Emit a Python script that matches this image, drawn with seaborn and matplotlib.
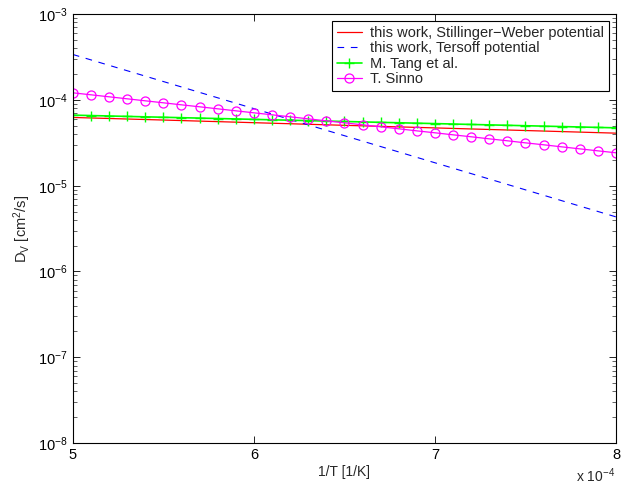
import numpy as np
import pandas as pd
import matplotlib
matplotlib.use("Agg")
import matplotlib.pyplot as plt
import seaborn as sns
from matplotlib.ticker import LogLocator, FixedLocator, FuncFormatter, NullFormatter

# 1/T in units of 1e-4 1/K
inv_T = [5.0, 5.1, 5.2, 5.3, 5.4, 5.5, 5.6, 5.7, 5.8, 5.9,
         6.0, 6.1, 6.2, 6.3, 6.4, 6.5, 6.6, 6.7, 6.8, 6.9,
         7.0, 7.1, 7.2, 7.3, 7.4, 7.5, 7.6, 7.7, 7.8, 7.9, 8.0]

inv_T_coarse = [5.0, 5.5, 6.0, 6.5, 7.0, 7.5, 8.0]

# this work, Stillinger-Weber [cm^2/s]
d_sw = [6.25e-5, 5.83e-5, 5.43e-5, 5.06e-5, 4.72e-5, 4.40e-5, 4.10e-5]
# this work, Tersoff
d_tersoff = [3.39e-4, 1.639e-4, 7.92e-5, 3.83e-5, 1.851e-5, 8.95e-6, 4.33e-6]
# M. Tang et al.
d_tang = [6.65e-5, 6.575e-5, 6.501e-5, 6.427e-5, 6.355e-5, 6.283e-5, 6.212e-5,
          6.142e-5, 6.072e-5, 6.004e-5, 5.936e-5, 5.869e-5, 5.803e-5, 5.737e-5,
          5.672e-5, 5.608e-5, 5.545e-5, 5.482e-5, 5.420e-5, 5.359e-5, 5.299e-5,
          5.239e-5, 5.180e-5, 5.121e-5, 5.063e-5, 5.006e-5, 4.950e-5, 4.894e-5,
          4.838e-5, 4.784e-5, 4.730e-5]
# T. Sinno
d_sinno = [1.211e-4, 1.148e-4, 1.088e-4, 1.031e-4, 9.77e-5, 9.26e-5, 8.77e-5,
           8.32e-5, 7.88e-5, 7.47e-5, 7.08e-5, 6.71e-5, 6.36e-5, 6.02e-5,
           5.71e-5, 5.41e-5, 5.13e-5, 4.86e-5, 4.61e-5, 4.36e-5, 4.14e-5,
           3.92e-5, 3.72e-5, 3.52e-5, 3.34e-5, 3.16e-5, 3.00e-5, 2.84e-5,
           2.69e-5, 2.55e-5, 2.42e-5]

sns.set_style("ticks")
plt.rcParams.update({
    "font.family": ["Liberation Sans", "DejaVu Sans"],
    "font.size": 10,
    "mathtext.fontset": "custom",
    "mathtext.rm": "Liberation Sans",
    "mathtext.it": "Liberation Sans:italic",
    "mathtext.bf": "Liberation Sans:bold",
    "axes.linewidth": 0.8,
    "xtick.direction": "in",
    "ytick.direction": "in",
    "xtick.top": True,
    "ytick.right": True,
})

fig = plt.figure(figsize=(6.39, 4.84), dpi=100)
ax = fig.add_axes([0.114, 0.0847, 0.850, 0.886])

sns.lineplot(x=inv_T_coarse, y=d_sw, ax=ax, color="#ff0000", lw=0.9,
             label="this work, Stillinger\u2212Weber potential")
sns.lineplot(x=inv_T_coarse, y=d_tersoff, ax=ax, color="#0000ff", lw=0.8,
             linestyle=(0, (6, 6)), label="this work, Tersoff potential")
sns.lineplot(x=inv_T, y=d_tang, ax=ax, color="#00ff00", lw=1.2, marker="+",
             markersize=7, markeredgewidth=1.0, markeredgecolor="#00ff00",
             label="M. Tang et al.")
sns.lineplot(x=inv_T, y=d_sinno, ax=ax, color="#ff00ff", lw=0.9, marker="o",
             markersize=6.5, markerfacecolor="none", markeredgecolor="#ff00ff",
             markeredgewidth=0.9, label="T. Sinno")

ax.set_yscale("log")
ax.set_xlim(5, 8)
ax.set_ylim(1e-8, 1e-3)
ax.xaxis.set_major_locator(FixedLocator([5, 6, 7, 8]))
ax.xaxis.set_major_formatter(FuncFormatter(lambda v, p: f"{v:g}"))
ax.yaxis.set_major_locator(LogLocator(base=10, numticks=10))
ax.yaxis.set_minor_locator(LogLocator(base=10, subs=np.arange(2, 10), numticks=20))
ax.yaxis.set_minor_formatter(NullFormatter())
ax.tick_params(which="major", length=5, width=0.6, colors="black", labelsize=10.5)
ax.tick_params(which="minor", length=3, width=0.5)
ax.tick_params(axis="y", which="major", pad=4)
for s in ax.spines.values():
    s.set_visible(True)
    s.set_color("black")

ax.set_xlabel("1/T [1/K]", fontsize=10, labelpad=2)
ax.set_ylabel(r"D$_\mathrm{V}$ [cm$^2$/s]", fontsize=10.5, labelpad=3)
ax.text(0.999, -0.054, r"x 10$^{-4}$", transform=ax.transAxes,
        ha="right", va="top", fontsize=10)

leg = ax.legend(loc="upper right", frameon=True, fancybox=False,
                edgecolor="black", framealpha=1, fontsize=10.5,
                handlelength=1.7, labelspacing=0.1, borderaxespad=0.5,
                borderpad=0.3, handletextpad=0.6)
leg.get_frame().set_linewidth(0.8)

fig.savefig("out.png", dpi=100)
